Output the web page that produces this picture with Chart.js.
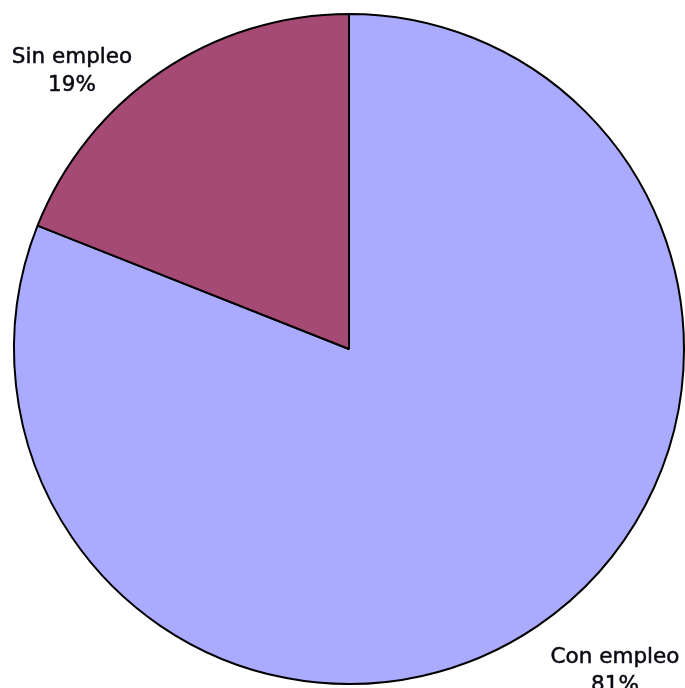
<!DOCTYPE html>
<html>
<head>
<meta charset="utf-8">
<script src="https://cdn.jsdelivr.net/npm/chart.js@4"></script>
<style>
  html, body { margin: 0; padding: 0; background: #fff; overflow: hidden; }
  canvas { display: block; }
</style>
</head>
<body>
<canvas id="pie-chart" width="700" height="700"></canvas>
<script>
// employment split
var categories = ['Con empleo', 'Sin empleo'];
var percents = [81, 19];
var sliceColors = ['#aaabfe', '#a44a74'];

// label text drawn beside the pie, one block per slice
var labelSpots = [
    { x: 615, y: 663 },   // Con empleo
    { x: 72, y: 63 }      // Sin empleo
];

var labelPlugin = {
    id: 'sliceLabels',
    afterDraw: function(chart) {
        var ctx = chart.ctx;
        ctx.save();
        ctx.font = '21.5px "DejaVu Sans"';
        ctx.fillStyle = '#0a0a14';
        ctx.strokeStyle = '#0a0a14';
        ctx.lineWidth = 0.5;
        ctx.textAlign = 'center';
        ctx.textBaseline = 'alphabetic';
        for (var i = 0; i < categories.length; i++) {
            var spot = labelSpots[i];
            ctx.fillText(categories[i], spot.x, spot.y);
            ctx.strokeText(categories[i], spot.x, spot.y);
            ctx.fillText(percents[i] + '%', spot.x, spot.y + 28);
            ctx.strokeText(percents[i] + '%', spot.x, spot.y + 28);
        }
        ctx.restore();
    }
};

var pie_ctx = document.getElementById('pie-chart').getContext('2d');

var pie_chart = new Chart(pie_ctx, {
    type: 'pie',
    data: {
        labels: categories,
        datasets: [{
            data: percents,
            backgroundColor: sliceColors,
            borderColor: '#000',
            borderWidth: 2
        }]
    },
    options: {
        responsive: false,
        animation: false,
        devicePixelRatio: 1,
        layout: {
            padding: { left: 13, top: 13, right: 15, bottom: 15 }
        },
        plugins: {
            legend: { display: false },
            tooltip: { enabled: false }
        }
    },
    plugins: [labelPlugin]
});
</script>
</body>
</html>
